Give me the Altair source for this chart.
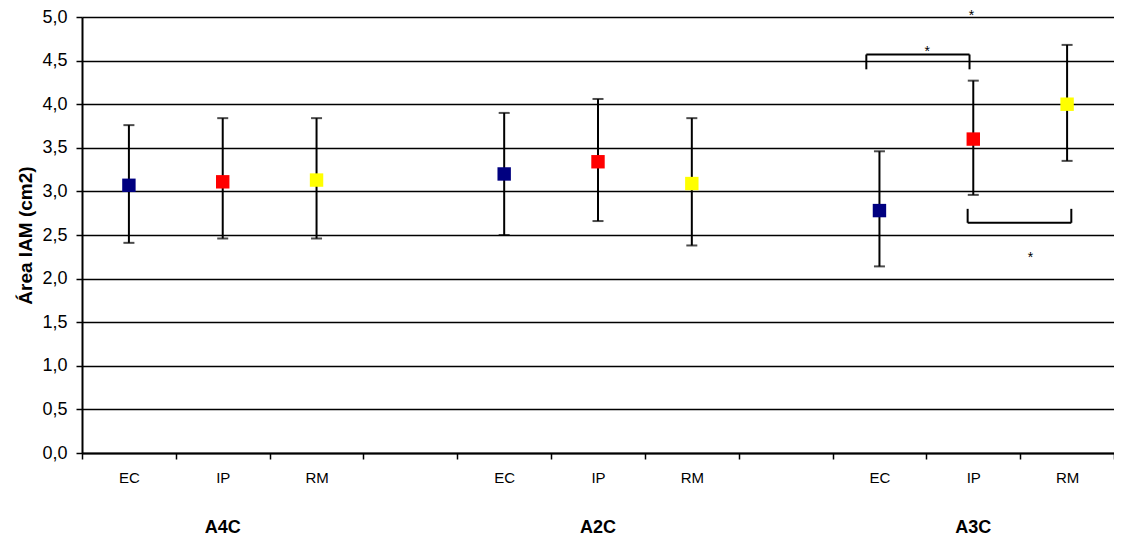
import altair as alt
import pandas as pd

# ---- data ----
slots = ["A4C|EC", "A4C|IP", "A4C|RM", "g1|", "A2C|EC", "A2C|IP", "A2C|RM", "g2|",
         "A3C|EC", "A3C|IP", "A3C|RM"]
groups = ["A4C", "A4C", "A4C", "A2C", "A2C", "A2C", "A3C", "A3C", "A3C"]
methods = ["EC", "IP", "RM", "EC", "IP", "RM", "EC", "IP", "RM"]
means = [3.07, 3.11, 3.13, 3.20, 3.34, 3.09, 2.78, 3.60, 4.00]
upper = [3.76, 3.84, 3.84, 3.90, 4.06, 3.84, 3.46, 4.27, 4.68]
lower = [2.41, 2.46, 2.46, 2.50, 2.66, 2.38, 2.14, 2.96, 3.35]
method_colors = ["#000080", "#FF0000", "#FFFF00"]

# significance brackets (x in slot units 0..11, y in cm2)
br_x = [8.36, 8.36, 9.46, 9.44, 9.44, 10.545]
br_x2 = [9.46, 8.36, 9.46, 10.545, 9.44, 10.545]
br_y = [4.57, 4.57, 4.57, 2.64, 2.64, 2.64]
br_y2 = [4.57, 4.40, 4.40, 2.64, 2.80, 2.80]
star_x = [9.01, 9.48, 10.11]
star_y = [4.675, 5.095, 2.317]

group_labels = ["A4C", "A2C", "A3C"]
group_label_slot = ["A4C|IP", "A2C|IP", "A3C|IP"]
y_ticks = [0, 0.5, 1, 1.5, 2, 2.5, 3, 3.5, 4, 4.5, 5]

df = pd.DataFrame({
    "slot": [f"{g}|{m}" for g, m in zip(groups, methods)],
    "method": methods, "mean": means, "lo": lower, "hi": upper,
})
br = pd.DataFrame({"x": br_x, "x2": br_x2, "y": br_y, "y2": br_y2})
st = pd.DataFrame({"x": star_x, "y": star_y, "t": ["*"] * len(star_x)})
gl = pd.DataFrame({"slot": group_label_slot, "g": group_labels})

W, H = 1032, 436

xscale = alt.Scale(domain=slots, paddingInner=0, paddingOuter=0)
yscale = alt.Scale(domain=[0, 5], nice=False)

xaxis = alt.Axis(title=None, tickBand="extent", labelExpr="split(datum.value, '|')[1]",
                 labelAngle=0, domainColor="black", domainWidth=2, tickColor="black",
                 tickWidth=1.5, tickSize=6, labelFont="Liberation Sans",
                 labelFontSize=15, labelPadding=11, labelColor="black", grid=False)
yaxis = alt.Axis(values=y_ticks, labelExpr="replace(format(datum.value, '.1f'), '.', ',')",
                 grid=True, gridColor="black", gridWidth=1.3, domainColor="black",
                 domainWidth=2, tickColor="black", tickSize=6, tickWidth=1.5,
                 labelFont="Liberation Sans", labelFontSize=18, labelPadding=9,
                 labelColor="black", title="Área IAM (cm2)", titleFont="Liberation Sans",
                 titleFontSize=19, titleFontWeight="bold", titlePadding=6, titleColor="black")

base = alt.Chart(df)
x_enc = alt.X("slot:N", scale=xscale, axis=xaxis, sort=slots)

bars = base.mark_rule(color="black", strokeWidth=2).encode(
    x=x_enc, y=alt.Y("lo:Q", scale=yscale, axis=yaxis), y2="hi:Q")
cap_lo = base.mark_tick(color="black", size=11, thickness=2).encode(
    x=x_enc, y=alt.Y("lo:Q", scale=yscale))
cap_hi = base.mark_tick(color="black", size=11, thickness=2).encode(
    x=x_enc, y=alt.Y("hi:Q", scale=yscale))
pts = base.mark_square(size=180, opacity=1, strokeWidth=0).encode(
    x=x_enc, y=alt.Y("mean:Q", scale=yscale),
    color=alt.Color("method:N", scale=alt.Scale(domain=["EC", "IP", "RM"], range=method_colors),
                    legend=None))
glab = alt.Chart(gl).mark_text(font="Liberation Sans", fontSize=18, fontWeight="bold",
                               color="black", baseline="middle").encode(
    x=alt.X("slot:N", scale=xscale, sort=slots), y=alt.value(H + 75), text="g:N")

main = alt.layer(bars, cap_lo, cap_hi, pts, glab)

ascale = alt.Scale(domain=[0, 11], nice=False, zero=False)
brk = alt.Chart(br).mark_rule(color="black", strokeWidth=2).encode(
    x=alt.X("x:Q", scale=ascale, axis=None), x2="x2:Q",
    y=alt.Y("y:Q", scale=yscale), y2="y2:Q")
stars = alt.Chart(st).mark_text(fontSize=14, color="black", font="Liberation Sans",
                                baseline="top").encode(
    x=alt.X("x:Q", scale=ascale, axis=None), y=alt.Y("y:Q", scale=yscale), text="t:N")
ann = alt.layer(brk, stars)

chart = alt.layer(main, ann).resolve_scale(x="independent").properties(
    width=W, height=H,
    autosize=alt.AutoSizeParams(type="none"),
    padding={"left": 74, "top": 9, "right": 0, "bottom": 83},
).configure_view(stroke=None).configure(background="white")

chart.save("out.html", embed_options={"renderer": "svg", "actions": False})
